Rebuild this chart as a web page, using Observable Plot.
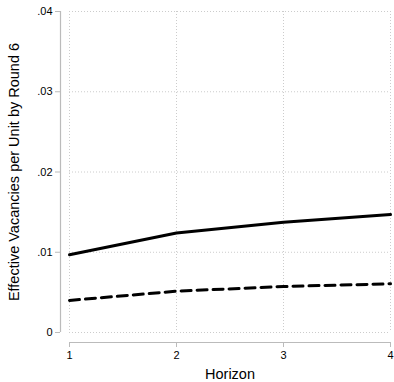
<!DOCTYPE html>
<html><head><meta charset="utf-8">
<script src="https://cdn.jsdelivr.net/npm/d3@7"></script>
<script src="https://cdn.jsdelivr.net/npm/@observablehq/plot@0.6"></script>
<style>body{margin:0;background:#fff;} svg{font-family:"Liberation Sans",Arial,sans-serif;}</style>
</head><body><div id="chart"></div>
<script>
const horizon = [1, 2, 3, 4];
const solidSeries = [0.0097, 0.0124, 0.01375, 0.0147];
const dashedSeries = [0.0040, 0.00515, 0.00573, 0.00607];
const yTicks = [0, 0.01, 0.02, 0.03, 0.04];
const yTickLabels = ["0", ".01", ".02", ".03", ".04"];
const xTicks = [1, 2, 3, 4];

const solid = horizon.map((h, i) => ({h, v: solidSeries[i]}));
const dashed = horizon.map((h, i) => ({h, v: dashedSeries[i]}));

const chart = Plot.plot({
  width: 394, height: 382,
  marginLeft: 69, marginRight: 4, marginTop: 11, marginBottom: 50,
  style: {fontFamily: '"Liberation Sans", Arial, sans-serif', background: "#fff"},
  x: {domain: [1, 4]},
  y: {domain: [0, 0.04]},
  marks: [
    Plot.gridX(xTicks, {stroke: "#ccc", strokeOpacity: 1, strokeDasharray: "1,2"}),
    Plot.gridY(yTicks, {stroke: "#ccc", strokeOpacity: 1, strokeDasharray: "1,2"}),
    Plot.ruleX([1], {y1: 0, y2: 0.04, dx: -9, stroke: "#bbb", strokeWidth: 1.2}),
    Plot.ruleY([0], {x1: 1, x2: 4, dy: 10, stroke: "#bbb", strokeWidth: 1.2}),
    Plot.axisY(yTicks, {tickFormat: (d, i) => yTickLabels[i], dx: -9, tickSize: 5, tickPadding: 3, stroke: "#bbb", fontSize: 11, fill: "#000", label: null}),
    Plot.axisX(xTicks, {tickFormat: d => String(d), dy: 10, tickSize: 5, tickPadding: 4, stroke: "#bbb", fontSize: 11, fill: "#000", label: null}),
    Plot.text(["Effective Vacancies per Unit by Round 6"], {frameAnchor: "left", textAnchor: "middle", dx: -55, rotate: -90, fontSize: 14.5, fill: "#000"}),
    Plot.text(["Horizon"], {frameAnchor: "bottom", dy: 46, fontSize: 14.5, fill: "#000"}),
    Plot.line(dashed, {x: "h", y: "v", stroke: "#000", strokeWidth: 3, strokeDasharray: "10,6"}),
    Plot.line(solid, {x: "h", y: "v", stroke: "#000", strokeWidth: 3})
  ]
});
document.getElementById("chart").appendChild(chart);
</script>
</body></html>
